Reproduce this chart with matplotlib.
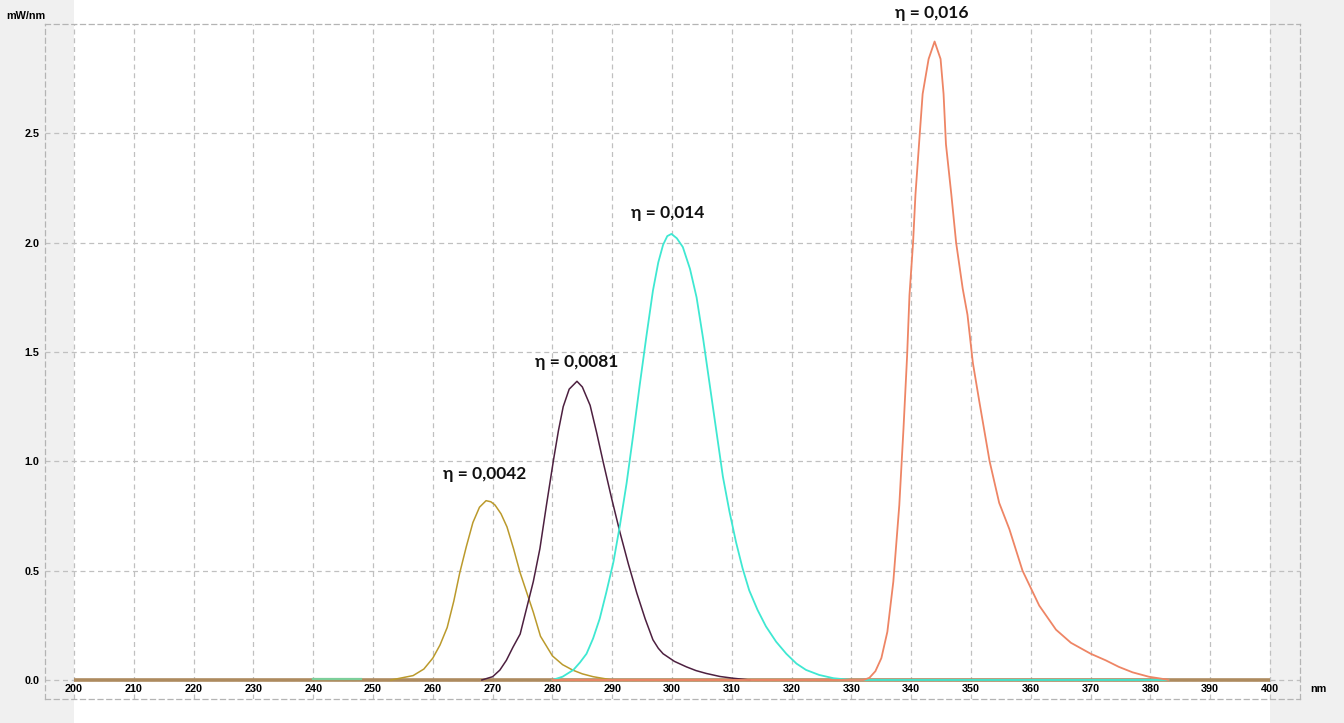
import matplotlib.pyplot as plt
from matplotlib.patches import Rectangle
import matplotlib.transforms as mtransforms

# spectra (nm, mW/nm)
wl_a = [253, 254.5, 256.7, 258.5, 260, 261.2, 262.4, 263.5, 264.5, 265.6, 266.7, 267.8,
        268.9, 269.7, 270.4, 271.4, 272.4, 273.5, 274.6, 275.7, 276.8, 278, 280, 281.7,
        283.4, 285, 286.8, 290]
p_a = [0, 0.008, 0.02, 0.05, 0.1, 0.16, 0.24, 0.36, 0.49, 0.61, 0.72, 0.79,
       0.82, 0.815, 0.80, 0.76, 0.70, 0.60, 0.49, 0.40, 0.31, 0.20, 0.11, 0.07,
       0.045, 0.028, 0.015, 0.0]

wl_b = [268.2, 270, 271.2, 272.3, 273.4, 274.6, 275.7, 276.8, 277.9, 279, 280.2, 281,
        281.8, 282.8, 284.1, 285, 286.3, 287.4, 288.5, 289.9, 291.3, 292.7, 294.1, 295.5,
        296.8, 297.7, 298.5, 300.4, 302.4, 304, 305.7, 308, 310.2, 313]
p_b = [0, 0.015, 0.045, 0.09, 0.15, 0.21, 0.33, 0.45, 0.60, 0.80, 1.01, 1.14,
       1.25, 1.33, 1.366, 1.34, 1.256, 1.13, 0.995, 0.83, 0.674, 0.53, 0.398, 0.28,
       0.184, 0.145, 0.12, 0.085, 0.06, 0.043, 0.03, 0.016, 0.008, 0.0]

wl_c = [280, 281.7, 283.5, 284.6, 285.7, 286.8, 287.9, 289, 290.2, 291.3, 292.4, 293.5,
        294.6, 295.7, 296.8, 297.7, 298.5, 299.2, 299.9, 300.8, 301.8, 303, 304.1, 305.2,
        306.3, 307.4, 308.5, 309.6, 310.7, 311.8, 312.9, 314.3, 315.7, 317.4, 319.1, 320.8,
        322.4, 324.6, 327, 330, 383]
p_c = [0, 0.015, 0.046, 0.08, 0.12, 0.19, 0.28, 0.40, 0.54, 0.71, 0.90, 1.12,
       1.35, 1.57, 1.78, 1.91, 1.99, 2.03, 2.04, 2.02, 1.98, 1.88, 1.75, 1.56,
       1.35, 1.14, 0.93, 0.77, 0.63, 0.51, 0.41, 0.32, 0.245, 0.175, 0.12, 0.075,
       0.046, 0.023, 0.008, 0.0, 0.0]

wl_d = [280, 332, 333, 334, 335, 336, 337, 338, 338.7, 339.3, 339.7, 340.3, 340.7,
        341.4, 341.9, 342.9, 343.9, 344.9, 345.4, 345.8, 346.7, 347.5, 348.6, 349.4,
        350.3, 351.4, 353.1, 354.7, 356.4, 358.6, 361.4, 364.2, 366.7, 370, 372.5,
        374.7, 377, 379.7, 382.5, 383]
p_d = [0, 0, 0.01, 0.04, 0.1, 0.22, 0.45, 0.80, 1.15, 1.48, 1.76, 2.0, 2.22,
       2.49, 2.68, 2.84, 2.92, 2.84, 2.68, 2.45, 2.22, 2.0, 1.79, 1.67,
       1.45, 1.27, 1.0, 0.81, 0.69, 0.5, 0.34, 0.23, 0.17, 0.12, 0.09,
       0.06, 0.035, 0.015, 0.003, 0]

wl_base = [200, 400]
p_base = [0, 0]
wl_green = [240, 248]
p_green = [0.005, 0.005]

labels = ['η = 0,0042', 'η = 0,0081', 'η = 0,014', 'η = 0,016']
label_x = [268.6, 284.1, 299.3, 343.5]
label_y = [0.94, 1.455, 2.135, 3.05]

xticks = list(range(200, 401, 10))
yticks = [0.0, 0.5, 1.0, 1.5, 2.0, 2.5]

fig = plt.figure(figsize=(13.44, 7.23), dpi=100, facecolor='#f0f0f0')
ax = fig.add_axes([45/1344, 24/723, 1255/1344, 675/723])
ax.set_facecolor('none')

# white band behind the data range, full figure height
tr = mtransforms.blended_transform_factory(ax.transData, fig.transFigure)
ax.add_patch(Rectangle((200, 0), 200, 1, transform=tr, facecolor='white',
                       edgecolor='none', clip_on=False, zorder=0))

ax.set_xlim(195.15, 405.0)
ax.set_ylim(-0.087, 3.0)

ax.grid(True, color='#c0c0c0', linestyle=(0, (4, 3)), linewidth=0.9)
ax.set_axisbelow(True)
for s in ax.spines.values():
    s.set_linestyle((0, (4, 3)))
    s.set_color('#b4b4b4')
    s.set_linewidth(0.9)

ax.plot(wl_base, p_base, color='#ad8a5e', lw=2.6, zorder=2, solid_capstyle='butt')
ax.plot(wl_green, p_green, color='#7ccf9a', lw=1.6, zorder=2)
ax.plot(wl_a, p_a, color='#bb9a2c', lw=1.1, zorder=3)
ax.plot(wl_b, p_b, color='#4d2040', lw=1.1, zorder=3)
ax.plot(wl_c, p_c, color='#3fe8d2', lw=1.3, zorder=3)
ax.plot(wl_d, p_d, color='#ee8565', lw=1.3, zorder=4)

for t, lx, ly in zip(labels, label_x, label_y):
    ax.text(lx, ly, t, ha='center', va='center', fontsize=12.5, fontweight='bold',
            family='Lato', color='#111111', clip_on=False)

ax.set_xticks(xticks)
ax.set_yticks(yticks)
ax.set_yticklabels(['%.1f' % v for v in yticks])
ax.tick_params(axis='both', length=0, labelsize=7.8)
ax.tick_params(axis='x', pad=-10.5)
ax.tick_params(axis='y', pad=4)
for lab in ax.get_xticklabels() + ax.get_yticklabels():
    lab.set_fontweight('bold')
    lab.set_family('Liberation Sans')

fig.text(26/1344, 1 - 16/723, 'mW/nm', ha='center', va='center', fontsize=7.8,
         fontweight='bold', family='Liberation Sans')
fig.text(1318/1344, 1 - 689/723, 'nm', ha='center', va='center', fontsize=7.8,
         fontweight='bold', family='Liberation Sans')

fig.savefig('out.png', dpi=100, facecolor=fig.get_facecolor())
